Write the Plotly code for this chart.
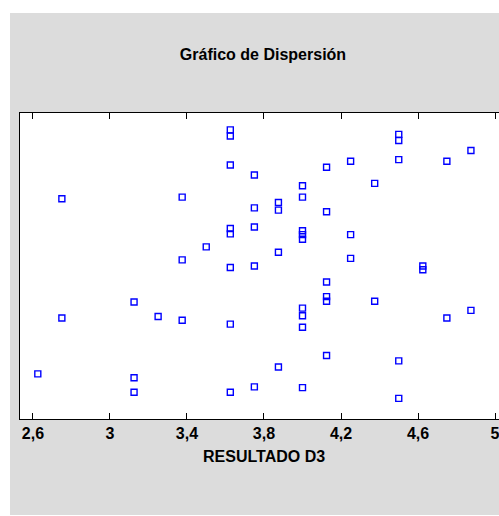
import plotly.graph_objects as go

# RESULTADO D3 (x) and unlabeled y values
resultado_d3 = [
    3.625, 3.625, 3.625, 3.625, 3.625, 3.625, 3.625, 3.625,
    2.75, 2.75,
    3.375, 3.375, 3.375,
    3.5,
    4.5, 4.5, 4.5, 4.5, 4.5,
    4.875, 4.875,
    4.25, 4.25, 4.25,
    4.75, 4.75,
    4.125, 4.125, 4.125, 4.125, 4.125, 4.125,
    3.75, 3.75, 3.75, 3.75, 3.75,
    4.0, 4.0, 4.0, 4.0, 4.0, 4.0, 4.0, 4.0, 4.0,
    4.375, 4.375,
    3.875, 3.875, 3.875, 3.875,
    4.625, 4.625,
    3.125, 3.125, 3.125,
    3.25,
    2.625,
]
valor_y = [
    4.78, 4.70, 4.32, 3.49, 3.42, 2.98, 2.24, 1.35,
    3.88, 2.32,
    3.90, 3.08, 2.29,
    3.25,
    4.72, 4.64, 4.39, 1.76, 1.27,
    4.51, 2.42,
    4.37, 3.41, 3.10,
    4.37, 2.32,
    4.29, 3.71, 2.79, 2.60, 2.54, 1.83,
    4.19, 3.76, 3.51, 3.00, 1.42,
    4.05, 3.90, 3.46, 3.41, 3.35, 2.45, 2.35, 2.20, 1.41,
    4.08, 2.54,
    3.83, 3.73, 3.18, 1.68,
    3.00, 2.95,
    2.53, 1.54, 1.35,
    2.34,
    1.59,
]

x_tick_vals = [2.6, 3.0, 3.4, 3.8, 4.2, 4.6, 5.0]

# figure geometry (pixels)
W, H = 499, 516
L, T, B = 20, 113, 97
PW, PH = W - L, H - T - B


def px_x(p):
    return (p - L) / PW


def px_y(p):
    return (H - B - p) / PH


fig = go.Figure()
fig.add_trace(go.Scatter(
    x=resultado_d3, y=valor_y, mode="markers",
    marker=dict(symbol="square-open", size=6, color="#0000FF",
                line=dict(width=1.4, color="#0000FF")),
    showlegend=False, hoverinfo="x+y",
))

# white page strips around the grey panel
white = dict(type="rect", xref="paper", yref="paper", fillcolor="white",
             line=dict(width=0), layer="above")
fig.add_shape(**white, x0=px_x(0), x1=px_x(10), y0=px_y(H), y1=px_y(0))
fig.add_shape(**white, x0=px_x(0), x1=px_x(W), y0=px_y(13), y1=px_y(0))
fig.add_shape(**white, x0=px_x(0), x1=px_x(W), y0=px_y(H), y1=px_y(H - 1))

fig.add_annotation(
    text="<b>RESULTADO D3</b>", xref="paper", yref="paper",
    x=px_x(264), y=px_y(456), xanchor="center", yanchor="middle",
    showarrow=False, font=dict(size=16),
)

fig.update_layout(
    width=W, height=H,
    paper_bgcolor="#DCDCDC", plot_bgcolor="white",
    margin=dict(l=L, r=0, t=T, b=B, autoexpand=False),
    separators=",.",
    font=dict(family="Liberation Sans, Arial, sans-serif", color="black"),
    title=dict(text="<b>Gráfico de Dispersión</b>", x=263 / W, xanchor="center",
               y=1 - 54 / H, yanchor="middle", font=dict(size=16)),
)
fig.update_xaxes(
    range=[2.5325, 5.0208], tickvals=x_tick_vals, tickformat="~g",
    showgrid=False, zeroline=False, automargin=False,
    ticklabeloverflow="allow",
    showline=True, linecolor="black", linewidth=1.3, mirror="ticks",
    ticks="inside", ticklen=6, tickwidth=1.2, tickcolor="black",
    tickfont=dict(size=16, weight="bold"),
)
fig.update_yaxes(
    range=[1.0, 5.0], showticklabels=False, ticks="",
    showgrid=False, zeroline=False, automargin=False,
    showline=True, linecolor="black", linewidth=1.3, mirror=False,
)

fig.write_html(
    "out.html",
    config={"displayModeBar": False},
    post_script="document.body.style.margin='0';document.body.style.overflow='hidden';",
)
